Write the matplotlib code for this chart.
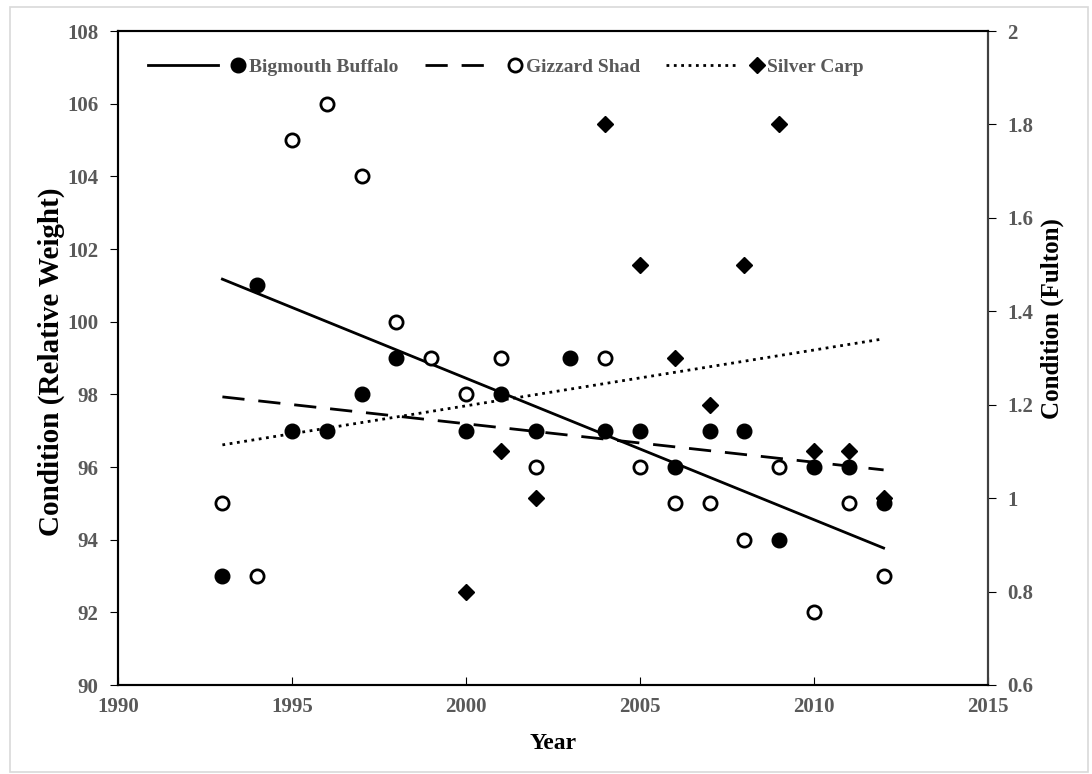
import numpy as np
import matplotlib.pyplot as plt
from matplotlib.lines import Line2D
from matplotlib.legend_handler import HandlerBase
from matplotlib.patches import Rectangle

# Bigmouth Buffalo (relative weight, left axis)
bb_years = [1993, 1994, 1995, 1996, 1997, 1998, 2000, 2001, 2002, 2003,
            2004, 2005, 2006, 2007, 2008, 2009, 2010, 2011, 2012]
bb_vals = [93, 101, 97, 97, 98, 99, 97, 98, 97, 99,
           97, 97, 96, 97, 97, 94, 96, 96, 95]

# Gizzard Shad (relative weight, left axis)
gs_years = [1993, 1994, 1995, 1996, 1997, 1998, 1999, 2000, 2001, 2002,
            2004, 2005, 2006, 2007, 2008, 2009, 2010, 2011, 2012]
gs_vals = [95, 93, 105, 106, 104, 100, 99, 98, 99, 96,
           99, 96, 95, 95, 94, 96, 92, 95, 93]

# Silver Carp (Fulton, right axis)
sc_years = [2000, 2001, 2002, 2004, 2005, 2006, 2007, 2008, 2009, 2010, 2011, 2012]
sc_vals = [0.8, 1.1, 1.0, 1.8, 1.5, 1.3, 1.2, 1.5, 1.8, 1.1, 1.1, 1.0]

# trend lines
trend_years = [1993, 2012]
bb_trend = [101.17, 93.77]
gs_trend = [97.93, 95.92]
sc_trend = [1.114, 1.341]

labels = ['Bigmouth Buffalo', 'Gizzard Shad', 'Silver Carp']

grey = '#595959'
plt.rcParams['font.family'] = ['Liberation Serif', 'DejaVu Serif']
plt.rcParams['font.weight'] = 'bold'


class LineThenMarker(HandlerBase):
    # excel style legend key: line sample, then the marker next to the text
    def create_artists(self, legend, orig_handle, xdescent, ydescent,
                       width, height, fontsize, trans):
        line_h, mark_h = orig_handle
        y = height / 2 - ydescent
        x0 = -xdescent
        ln = Line2D([x0, x0 + width * 0.72], [y, y])
        ln.update_from(line_h)
        ln.set_marker('')
        ln.set_transform(trans)
        mk = Line2D([x0 + width - 5], [y])
        mk.update_from(mark_h)
        mk.set_linestyle('none')
        mk.set_transform(trans)
        return [ln, mk]


fig = plt.figure(figsize=(10.92, 7.74), dpi=100)
ax = fig.add_axes([118/1092, 1-685/774, (988-118)/1092, (685-31)/774])
ax2 = ax.twinx()

ax.plot(trend_years, bb_trend, '-', color='black', lw=2, zorder=2)
ax.plot(trend_years, gs_trend, '--', color='black', lw=2, dashes=(8, 5), zorder=2)
ax2.plot(trend_years, sc_trend, ':', color='black', lw=2, zorder=2)

ax.plot(gs_years, gs_vals, 'o', ms=9.5, mfc='white', mec='black', mew=2, zorder=3)
ax.plot(bb_years, bb_vals, 'o', ms=10.5, mfc='black', mec='black', zorder=4)
ax2.plot(sc_years, sc_vals, 'D', ms=8, mfc='black', mec='black', zorder=4)

ax.set_xlim(1990, 2015)
ax.set_ylim(90, 108)
ax2.set_ylim(0.6, 2)
ax.set_xticks(np.arange(1990, 2016, 5))
ax.set_yticks(np.arange(90, 109, 2))
ax2.set_yticks([0.6, 0.8, 1, 1.2, 1.4, 1.6, 1.8, 2])
ax2.set_yticklabels(['0.6', '0.8', '1', '1.2', '1.4', '1.6', '1.8', '2'])

ax.tick_params(axis='x', direction='in', length=6, labelsize=15, labelcolor=grey, pad=9)
ax.tick_params(axis='y', direction='out', length=6, labelsize=15, labelcolor=grey, pad=8)
ax2.tick_params(axis='y', direction='out', length=6, labelsize=15, labelcolor=grey, pad=8)
for t in ax.get_xticklabels() + ax.get_yticklabels() + ax2.get_yticklabels():
    t.set_fontweight('bold')

for s in ax.spines.values():
    s.set_linewidth(1.5)
for s in ax2.spines.values():
    s.set_linewidth(1.5)
ax2.spines['right'].set_color('#404040')

ax.set_xlabel('Year', fontsize=17, fontweight='bold', labelpad=11)
ax.set_ylabel('Condition (Relative Weight)', fontsize=21, fontweight='bold')
ax2.set_ylabel('Condition (Fulton)', fontsize=18, fontweight='bold')
ax.yaxis.set_label_coords(-0.061, 0.495)
ax2.yaxis.set_label_coords(1.061, 0.561)

h_bb = (Line2D([], [], color='black', lw=2),
        Line2D([], [], marker='o', ms=10.5, mfc='black', mec='black'))
h_gs = (Line2D([], [], color='black', lw=2, ls='--', dashes=(8, 5)),
        Line2D([], [], marker='o', ms=9.5, mfc='white', mec='black', mew=2))
h_sc = (Line2D([], [], color='black', lw=2, ls=':'),
        Line2D([], [], marker='D', ms=8, mfc='black', mec='black'))
leg = ax.legend([h_bb, h_gs, h_sc], labels,
                handler_map={tuple: LineThenMarker()},
                ncol=3, loc='center left', bbox_to_anchor=(0.0345, 0.945),
                frameon=False, borderpad=0, borderaxespad=0,
                handlelength=5.0, handletextpad=0.2, columnspacing=1.35,
                prop={'size': 14, 'weight': 'bold'})
for t in leg.get_texts():
    t.set_color(grey)

fig.patches.append(Rectangle((10/1092, 2/774), 1078/1092, 765/774, transform=fig.transFigure,
                             fill=False, edgecolor='#d9d9d9', lw=1.2))

plt.savefig('out.png', dpi=100)
